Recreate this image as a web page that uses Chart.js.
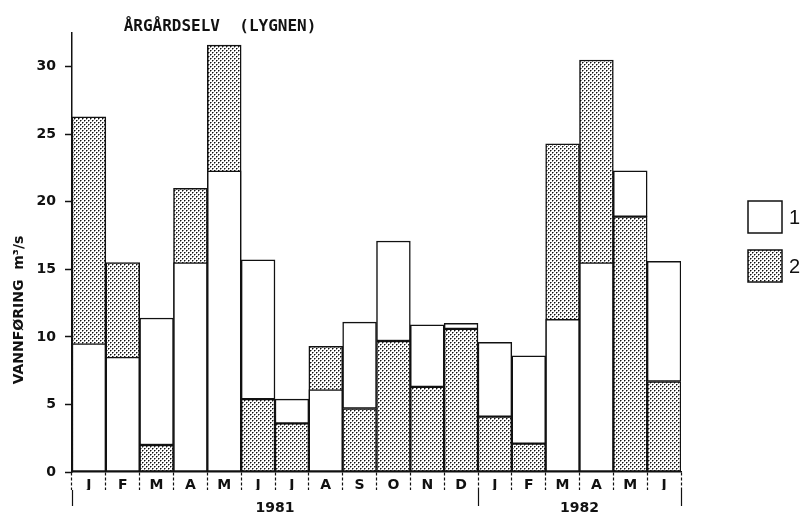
<!DOCTYPE html>
<html><head><meta charset="utf-8">
<script src="https://cdn.jsdelivr.net/npm/chart.js@4/dist/chart.umd.min.js"></script>
<style>html,body{margin:0;padding:0;background:#fff}#wrap{width:805px;height:515px;position:relative}</style>
</head><body><div id="wrap"><canvas id="c" width="805" height="515"></canvas></div>
<script>
const months = ['J','F','M','A','M','J','J','A','S','O','N','D','J','F','M','A','M','J'];
const years = ['1981','1982'];
const yearStarts = [0, 12, 18];
const series1 = [9.5,8.5,11.4,15.5,22.3,15.7,5.4,6.1,11.1,17.1,10.9,11.0,9.6,8.6,11.3,15.5,22.3,15.6];
const series2 = [26.3,15.5,2.0,21.0,31.6,5.4,3.6,9.3,4.7,9.7,6.3,10.6,4.1,2.1,24.3,30.5,18.9,6.7];
const yTicks = [0,5,10,15,20,25,30];
const legendLabels = ['1','2'];
const titleText = 'ÅRGÅRDSELV  (LYGNEN)';
const yTitleText = 'VANNFØRING  m³/s';

const FONT = "'DejaVu Sans',sans-serif";

function makePattern(){
  const t = document.createElement('canvas');
  t.width = 4; t.height = 4;
  const g = t.getContext('2d');
  g.fillStyle = '#fff'; g.fillRect(0,0,4,4);
  g.fillStyle = '#888';
  g.fillRect(1,0,1,1); g.fillRect(3,2,1,1); g.fillRect(0,1,1,1); g.fillRect(2,3,1,1);
  g.fillStyle = '#111';
  g.fillRect(0,0,1,1); g.fillRect(2,2,1,1);
  return document.getElementById('c').getContext('2d').createPattern(t,'repeat');
}
const dots = makePattern();

// white bar sits on top of dotted bar where it is shorter, floats above it where taller
const whiteData = series1.map((v,i)=> v > series2[i] ? [series2[i], v] : [0, v]);

const decor = {
  id: 'decor',
  afterDraw(chart){
    const ctx = chart.ctx;
    ctx.save();
    ctx.fillStyle = '#111';
    ctx.font = "bold 16px 'DejaVu Sans Mono',monospace";
    ctx.textAlign = 'center'; ctx.textBaseline = 'middle';
    ctx.fillText(titleText, 220, 27);
    ctx.save();
    ctx.translate(19, 310);
    ctx.rotate(-Math.PI/2);
    ctx.font = "bold 14px " + FONT;
    ctx.fillText(yTitleText, 0, 0);
    ctx.restore();
    // legend
    const boxes = [{y:201, fill:'#fff'},{y:250, fill:dots}];
    boxes.forEach((b,i)=>{
      ctx.fillStyle = b.fill;
      ctx.fillRect(748, b.y, 34, 32);
      ctx.strokeStyle = '#111'; ctx.lineWidth = 1.5;
      ctx.strokeRect(748, b.y, 34, 32);
      ctx.fillStyle = '#111';
      ctx.font = "20px 'Liberation Sans',Arial,sans-serif";
      ctx.textAlign = 'left';
      ctx.fillText(legendLabels[i], 789, b.y + 17);
    });
    ctx.restore();
  }
};

new Chart(document.getElementById('c'), {
  type: 'bar',
  data: {
    labels: months,
    datasets: [
      {label: legendLabels[0], data: whiteData, backgroundColor: '#fff', borderColor: '#111', borderWidth: 1.5, borderSkipped: false},
      {label: legendLabels[1], data: series2, backgroundColor: dots, borderColor: '#111', borderWidth: 1.5, borderSkipped: false}
    ]
  },
  options: {
    responsive: false,
    devicePixelRatio: 1,
    animation: false,
    layout: {padding: {left: 0, right: 124, top: 33, bottom: 0}},
    datasets: {bar: {grouped: false, barPercentage: 1, categoryPercentage: 1}},
    plugins: {legend: {display: false}, tooltip: {enabled: false}},
    scales: {
      y: {
        min: 0, max: 32.5,
        afterBuildTicks: s => { s.ticks = yTicks.map(v => ({value: v})); },
        afterFit: s => { s.width = 72; },
        grid: {drawOnChartArea: false, tickLength: 7, tickColor: '#111', tickWidth: 1.5},
        border: {color: '#111', width: 1.5},
        ticks: {padding: 9, color: '#111', font: {family: FONT, size: 14, weight: 'bold'}}
      },
      x: {
        weight: 0,
        offset: true,
        afterFit: s => { s.height = 18; },
        grid: {offset: true, drawOnChartArea: false, tickLength: 18, tickColor: '#111', tickWidth: 1.2, tickBorderDash: [3, 2]},
        border: {color: '#111', width: 1.5},
        ticks: {padding: -13, color: '#111', autoSkip: false, maxRotation: 0, font: {family: FONT, size: 14, weight: 'bold'}}
      },
      x2: {
        type: 'linear', position: 'bottom', weight: 1,
        min: 0, max: 18, offset: false,
        afterBuildTicks: s => { s.ticks = [0, 6, 12, 15, 18].map(v => ({value: v})); },
        afterFit: s => { s.height = 25; },
        grid: {offset: false, drawOnChartArea: false, tickLength: 16, tickWidth: 1.2,
          tickColor: c => (c.tick && yearStarts.includes(c.tick.value)) ? '#111' : 'rgba(0,0,0,0)'},
        border: {display: false},
        ticks: {padding: -6, color: '#111', autoSkip: false, maxRotation: 0,
          font: {family: FONT, size: 14, weight: 'bold'},
          callback: v => v === 6 ? years[0] : (v === 15 ? years[1] : '')}
      }
    }
  },
  plugins: [decor]
});
</script></body></html>
